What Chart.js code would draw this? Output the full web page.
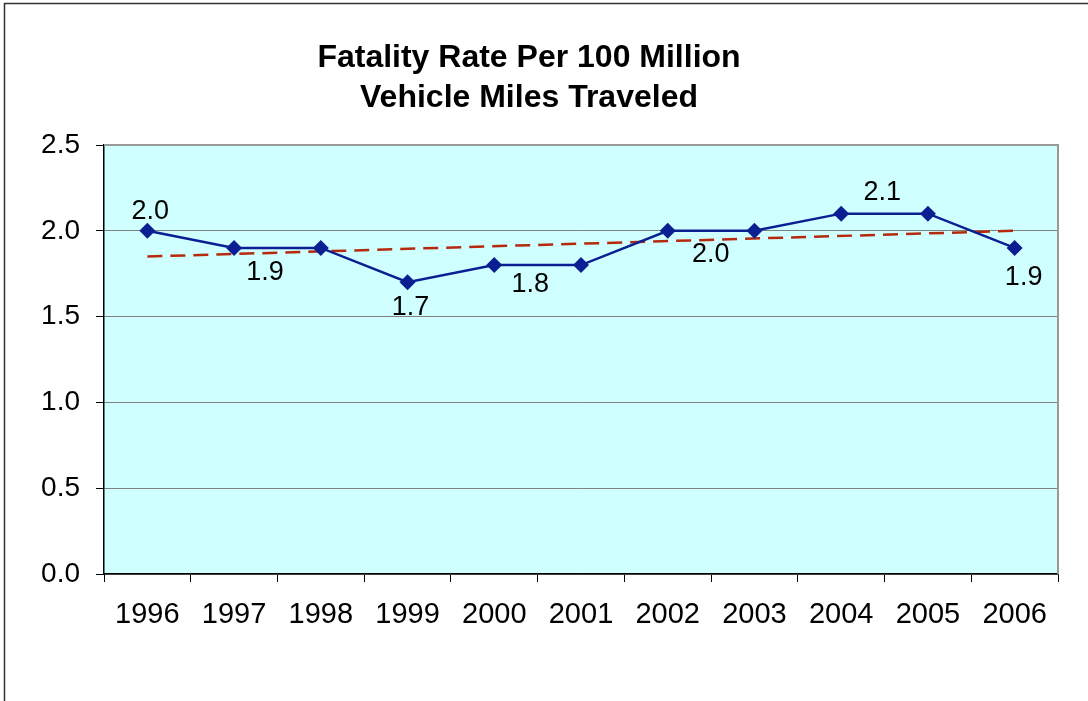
<!DOCTYPE html>
<html>
<head>
<meta charset="utf-8">
<title>Fatality Rate Per 100 Million Vehicle Miles Traveled</title>
<script src="https://cdn.jsdelivr.net/npm/chart.js@4/dist/chart.umd.min.js"></script>
<style>
  html, body { margin: 0; padding: 0; background: #fff; }
  #wrap { width: 1088px; height: 701px; position: relative; }
</style>
</head>
<body>
<div id="wrap"><canvas id="chart" width="1088" height="701"></canvas></div>
<script>
// ── Data ──────────────────────────────────────────────
const years      = ['1996', '1997', '1998', '1999', '2000', '2001', '2002', '2003', '2004', '2005', '2006'];
const rates      = [2.0, 1.9, 1.9, 1.7, 1.8, 1.8, 2.0, 2.0, 2.1, 2.1, 1.9];
// linear trend line, end values
const trendRates = [1.85, null, null, null, null, null, null, null, null, null, 2.0];
const yTicks     = [0, 0.5, 1.0, 1.5, 2.0, 2.5];

// which points carry a value label, and where it sits relative to the marker
const valueLabels = [
  { i: 0,  dx: 3,  dy: -19 },
  { i: 1,  dx: 31, dy: 25 },
  { i: 3,  dx: 3,  dy: 25 },
  { i: 4,  dx: 36, dy: 19 },
  { i: 6,  dx: 43, dy: 24 },
  { i: 8,  dx: 41, dy: -21 },
  { i: 10, dx: 9,  dy: 30 },
];

const FONT = "'Liberation Sans', Arial, sans-serif";

// ── Plugins ───────────────────────────────────────────
const frame = {
  id: 'frame',
  beforeDraw(chart) {
    const { ctx, chartArea: a } = chart;
    ctx.save();
    // outer chart border (left + top only are in view)
    ctx.strokeStyle = '#333';
    ctx.lineWidth = 1.5;
    ctx.beginPath();
    ctx.moveTo(4.5, chart.height);
    ctx.lineTo(4.5, 3.5);
    ctx.lineTo(chart.width, 3.5);
    ctx.stroke();
    // plot area fill
    ctx.fillStyle = '#d0ffff';
    ctx.fillRect(a.left, a.top, a.right - a.left, a.bottom - a.top);
    ctx.restore();
  },
  beforeDatasetsDraw(chart) {
    const { ctx, chartArea: a } = chart;
    ctx.save();
    ctx.strokeStyle = '#999';
    ctx.lineWidth = 2;
    ctx.beginPath();
    ctx.moveTo(a.left, a.top);
    ctx.lineTo(a.right, a.top);
    ctx.lineTo(a.right, a.bottom);
    ctx.stroke();
    ctx.restore();
  },
};

const pointLabels = {
  id: 'pointLabels',
  afterDatasetsDraw(chart) {
    const { ctx } = chart;
    const meta = chart.getDatasetMeta(0);
    ctx.save();
    ctx.font = `27px ${FONT}`;
    ctx.fillStyle = '#000';
    ctx.textAlign = 'center';
    ctx.textBaseline = 'middle';
    valueLabels.forEach(l => {
      const p = meta.data[l.i];
      ctx.fillText(rates[l.i].toFixed(1), p.x + l.dx, p.y + l.dy);
    });
    ctx.restore();
  },
};

// ── Chart ─────────────────────────────────────────────
new Chart(document.getElementById('chart'), {
  type: 'line',
  data: {
    labels: years,
    datasets: [
      {
        data: rates,
        borderColor: '#0b1f93',
        backgroundColor: '#0b1f93',
        borderWidth: 2.5,
        pointStyle: 'rectRot',
        pointRadius: 8,
        pointBorderWidth: 0,
        tension: 0,
        order: 1,
      },
      {
        data: trendRates,
        borderColor: '#b52a0c',
        borderWidth: 2.5,
        borderDash: [15, 8],
        pointRadius: 0,
        spanGaps: true,
        tension: 0,
        order: 2,
      },
    ],
  },
  options: {
    responsive: false,
    animation: false,
    events: [],
    layout: { padding: { top: 0, left: 0, right: 30, bottom: 0 } },
    plugins: {
      legend: { display: false },
      tooltip: { enabled: false },
      title: {
        display: true,
        text: ['Fatality Rate Per 100 Million', 'Vehicle Miles Traveled'],
        color: '#000',
        font: { family: FONT, size: 32, weight: 'bold', lineHeight: 1.25 },
        padding: { top: 38, bottom: 27 },
      },
    },
    scales: {
      x: {
        offset: true,
        afterFit(s) { s.height = 127; },
        grid: { offset: true, drawOnChartArea: false, color: '#000', tickLength: 8 },
        border: { color: '#000', width: 1.5 },
        ticks: { color: '#000', padding: 16, maxRotation: 0, font: { family: FONT, size: 29 } },
      },
      y: {
        min: 0,
        max: 2.5,
        afterFit(s) { s.width = 104; },
        afterBuildTicks(s) { s.ticks = yTicks.map(v => ({ value: v })); },
        grid: {
          color: '#808080',
          lineWidth: 1,
          tickLength: 8,
          tickColor: '#000',
        },
        border: { color: '#000', width: 1.5 },
        ticks: {
          color: '#000',
          padding: 16,
          font: { family: FONT, size: 28 },
          callback: v => v.toFixed(1),
        },
      },
    },
  },
  plugins: [frame, pointLabels],
});
</script>
</body>
</html>
